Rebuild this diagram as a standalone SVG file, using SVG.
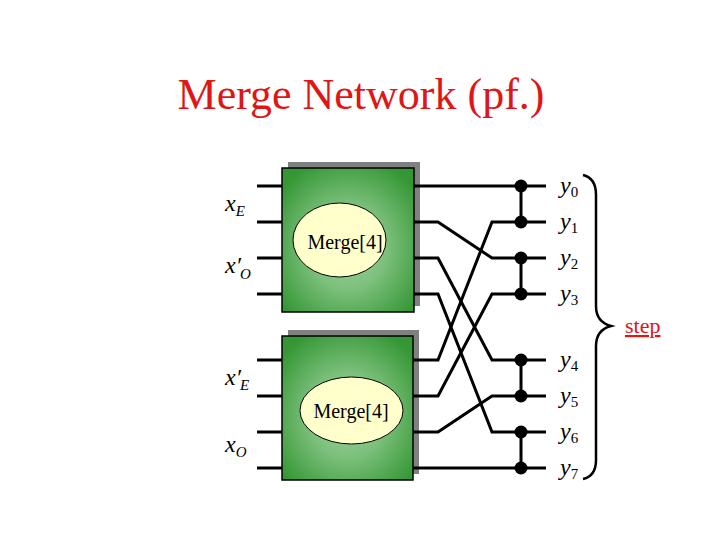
<svg xmlns="http://www.w3.org/2000/svg" width="720" height="540" viewBox="0 0 720 540">
<style>
.title{font-family:"Liberation Serif",serif;font-size:44px;fill:#e01515}
.lbl{font-family:"Liberation Serif",serif;font-size:24px;font-style:italic;fill:#000}
.sub{font-size:15px;font-style:normal}
.isub{font-size:15px;font-style:italic}
.mtext{font-family:"Liberation Serif",serif;font-size:20px;fill:#000}
.w{stroke:#000;stroke-width:3;fill:none}
.box{fill:url(#g);stroke:#000;stroke-width:1.5}
.sh{fill:#808080}
.ell{fill:#ffffcc;stroke:#000;stroke-width:1}
.dot{fill:#000}
</style>
<defs>
<radialGradient id="g" cx="0.5" cy="0.55" r="0.65">
<stop offset="0" stop-color="#a0d4a0"/>
<stop offset="0.45" stop-color="#7cc07c"/>
<stop offset="1" stop-color="#349634"/>
</radialGradient>
</defs>
<rect width="720" height="540" fill="#fff"/>
<text class="title" x="361" y="109" text-anchor="middle">Merge Network (pf.)</text>

<g id="merge-top">
<rect class="sh" x="288" y="162" width="132" height="144"/>
<rect class="box" x="282" y="168" width="132" height="144"/>
<ellipse class="ell" cx="339.5" cy="240" rx="46.5" ry="37"/>
<text class="mtext" x="345" y="249" text-anchor="middle">Merge[4]</text>
</g>
<g id="merge-bottom">
<rect class="sh" x="288" y="330" width="131" height="144"/>
<rect class="box" x="282" y="336" width="131" height="144"/>
<ellipse class="ell" cx="351.5" cy="410.5" rx="51.5" ry="33.5"/>
<text class="mtext" x="351" y="418" text-anchor="middle">Merge[4]</text>
</g>

<g id="connectors">
<path class="w" d="M257,186H282M257,222H282M257,258H282M257,294H282M257,360H282M257,396H282M257,432H282M257,468H282"/>
<path class="w" d="M414,186H546"/>
<path class="w" d="M414,222H438L492,258H546"/>
<path class="w" d="M414,258H438L492,360H546"/>
<path class="w" d="M414,294H438L492,432H546"/>
<path class="w" d="M413,360H438L492,222H546"/>
<path class="w" d="M413,396H438L492,294H546"/>
<path class="w" d="M413,432H438L492,396H546"/>
<path class="w" d="M413,468H546"/>
<path class="w" d="M521,186V222M521,258V294M521,360V396M521,432V468"/>
<circle class="dot" cx="521" cy="186" r="6.5"/>
<circle class="dot" cx="521" cy="222" r="6.5"/>
<circle class="dot" cx="521" cy="258" r="6.5"/>
<circle class="dot" cx="521" cy="294" r="6.5"/>
<circle class="dot" cx="521" cy="360" r="6.5"/>
<circle class="dot" cx="521" cy="396" r="6.5"/>
<circle class="dot" cx="521" cy="432" r="6.5"/>
<circle class="dot" cx="521" cy="468" r="6.5"/>
<path d="M583,175Q596,178 596,195V306Q596,322 611,326Q596,330 596,346V460Q596,476 583,479" fill="none" stroke="#000" stroke-width="2.5"/>
</g>

<g id="labels">
<text class="lbl" x="225" y="211">x<tspan class="isub" dy="5">E</tspan></text>
<text class="lbl" x="225" y="273">x′<tspan class="isub" dy="6" dx="-1">O</tspan></text>
<text class="lbl" x="225" y="385">x′<tspan class="isub" dy="5" dx="-1">E</tspan></text>
<text class="lbl" x="225" y="452">x<tspan class="isub" dy="5">O</tspan></text>
<text class="lbl" x="560" y="193">y<tspan class="sub" dy="4">0</tspan></text>
<text class="lbl" x="560" y="229">y<tspan class="sub" dy="4">1</tspan></text>
<text class="lbl" x="560" y="265">y<tspan class="sub" dy="4">2</tspan></text>
<text class="lbl" x="560" y="301">y<tspan class="sub" dy="4">3</tspan></text>
<text class="lbl" x="560" y="367">y<tspan class="sub" dy="4">4</tspan></text>
<text class="lbl" x="560" y="403">y<tspan class="sub" dy="4">5</tspan></text>
<text class="lbl" x="560" y="439">y<tspan class="sub" dy="4">6</tspan></text>
<text class="lbl" x="560" y="475">y<tspan class="sub" dy="4">7</tspan></text>
<text x="625" y="333" font-family="Liberation Serif, serif" font-size="22" fill="#e01515" text-decoration="underline">step</text>
</g>
</svg>
